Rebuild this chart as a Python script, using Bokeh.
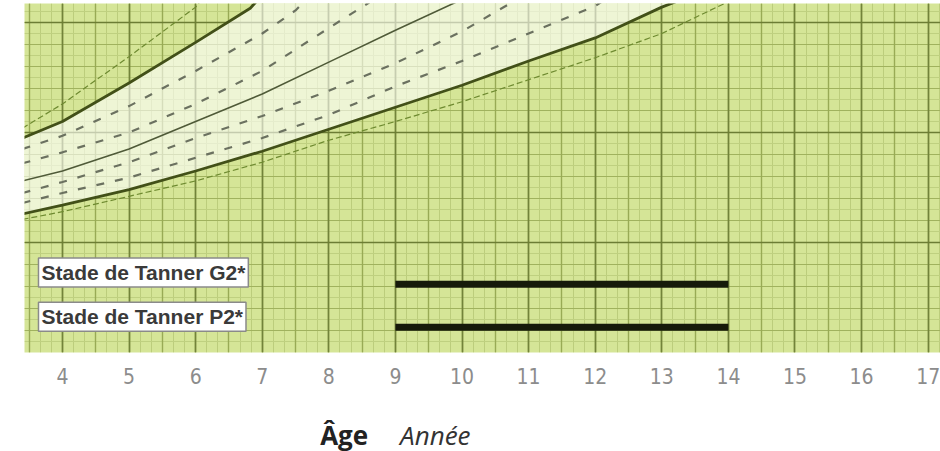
from bokeh.plotting import figure
from bokeh.layouts import column
from bokeh.models import Range1d, Grid, SingleIntervalTicker, FixedTicker, Label
from bokeh.embed import file_html
from bokeh.resources import INLINE

# ---- data (age in years, value in chart units) ----
tick_ages = [4, 5, 6, 7, 8, 9, 10, 11, 12, 13, 14, 15, 16, 17]

# outer thin dashed upper curve
age_a = [3.4, 4, 5, 6, 6.2]
val_a = [20.4, 22.6, 26.9, 31.4, 33.0]
# thick upper band boundary
age_b = [3.4, 4, 5, 6, 6.82, 7.0]
val_b = [19.5, 21.0, 24.5, 28.2, 31.3, 32.5]
# dashed inner curves (upper half)
age_c = [3.4, 4, 5, 6, 7, 7.5, 7.8]
val_c = [18.5, 19.7, 22.4, 25.6, 29.0, 31.1, 33.0]
age_d = [3.4, 4, 5, 6, 7, 8, 8.6, 8.8]
val_d = [17.2, 18.2, 20.0, 22.6, 25.6, 29.5, 31.8, 33.0]
# solid middle curve
age_e = [3.4, 4, 5, 6, 7, 8, 9, 10]
val_e = [15.6, 16.5, 18.5, 21.0, 23.5, 26.4, 29.3, 32.1]
# dashed inner curves (lower half)
age_f = [3.4, 4, 5, 6, 7, 8, 9, 10, 10.8]
val_f = [14.5, 15.5, 17.3, 19.5, 21.5, 23.8, 26.3, 29.2, 32.0]
age_g = [3.4, 4, 5, 6, 7, 8, 9, 10, 11, 12, 12.2]
val_g = [13.6, 14.5, 15.9, 17.7, 19.5, 21.6, 24.2, 26.5, 29.0, 31.5, 32.3]
# thick lower band boundary
age_h = [3.4, 4, 5, 6, 7, 8, 9, 10, 11, 12, 13, 13.3]
val_h = [12.6, 13.4, 14.8, 16.5, 18.3, 20.3, 22.3, 24.3, 26.5, 28.6, 31.4, 32.1]
# outer thin dashed lower curve
age_i = [3.4, 4, 5, 6, 7, 8, 9, 10, 11, 12, 13, 14]
val_i = [12.1, 12.8, 14.2, 15.6, 17.3, 19.3, 21.0, 22.8, 24.8, 26.8, 29.0, 31.9]

# Tanner stages: age range
tanner_labels = ["Stade de Tanner G2*", "Stade de Tanner P2*"]
tanner_start = [9, 9]
tanner_end = [14, 14]
tanner_row = [6.2, 2.3]

x_title = ["Âge", "Année"]

BG = "#d5e597"
XR = Range1d(3.43, 17.185)

p = figure(width=940, height=392, output_backend="svg", toolbar_location=None,
           x_range=XR, y_range=Range1d(0, 31.73),
           y_axis_location=None,
           min_border_left=24, min_border_right=0, min_border_top=3, min_border_bottom=40,
           background_fill_color=BG, border_fill_color="white", outline_line_color=None)

p.xgrid.visible = False
p.ygrid.visible = False

# grid layers
for dim, interval, color, width in [
    (0, 1/6, "#bccd7c", 1.0),
    (1, 1, "#bfd080", 1.0),
    (1, 2, "#a0b25e", 1.2),
    (0, 0.5, "#98aa55", 1.4),
    (0, 1, "#72833a", 1.6),
    (1, 10, "#6c7d34", 1.7),
]:
    g = Grid(dimension=dim, ticker=SingleIntervalTicker(interval=interval, num_minor_ticks=0),
             grid_line_color=color, grid_line_width=width)
    p.add_layout(g)

# pale band between thick curves
band_x = age_b + age_h[::-1]
band_y = val_b + val_h[::-1]
p.patch(band_x, band_y, fill_color="white", fill_alpha=0.6, line_color=None)

# curves
p.line(age_a, val_a, line_color="#6e8a30", line_width=1.2, line_dash="6 3")
p.line(age_i, val_i, line_color="#6e8a30", line_width=1.2, line_dash="6 3")
for ax_, vy in [(age_c, val_c), (age_d, val_d), (age_f, val_f), (age_g, val_g)]:
    p.line(ax_, vy, line_color="#6b7160", line_width=2.2, line_dash="8 11")
p.line(age_e, val_e, line_color="#4f5a38", line_width=1.6)
p.line(age_b, val_b, line_color="#425018", line_width=2.8)
p.line(age_h, val_h, line_color="#425018", line_width=2.8)

# Tanner bars
p.segment(x0=tanner_start, y0=tanner_row, x1=tanner_end, y1=tanner_row,
          line_color="#161a0a", line_width=7, line_cap="butt")

label_y = [7.27, 3.25]
for txt, ly in zip(tanner_labels, label_y):
    p.add_layout(Label(x=3.64, y=ly, text=txt, text_font="Liberation Sans",
                       text_font_style="bold", text_font_size="21px",
                       text_color="#3a3a3a", text_baseline="middle",
                       background_fill_color="white", border_line_color="#8a8a8a",
                       border_line_width=1.5, padding=3))

# x axis
ax = p.xaxis[0]
ax.ticker = FixedTicker(ticks=tick_ages)
ax.axis_line_color = None
ax.major_tick_line_color = None
ax.minor_tick_line_color = None
ax.major_label_standoff = 9
ax.major_label_text_font = "DejaVu Sans Condensed"
ax.major_label_text_font_size = "21px"
ax.major_label_text_color = "#8c8c8c"

# axis title row (separate strip so the text is not clipped)
p2 = figure(width=940, height=59, output_backend="svg", toolbar_location=None,
            x_range=XR, y_range=Range1d(0, 59),
            x_axis_location=None, y_axis_location=None,
            min_border_left=24, min_border_right=0, min_border_top=0, min_border_bottom=0,
            background_fill_color="white", border_fill_color="white", outline_line_color=None)
p2.xgrid.visible = False
p2.ygrid.visible = False
p2.add_layout(Label(x=7.87, y=17, text=x_title[0], text_font="Open Sans",
                    text_font_style="bold", text_font_size="26px", text_color="#222222",
                    text_baseline="alphabetic"))
p2.add_layout(Label(x=9.07, y=17, text=x_title[1], text_font="Open Sans",
                    text_font_style="italic", text_font_size="26px", text_color="#333333",
                    text_baseline="alphabetic"))

layout = column(p, p2, spacing=0)
open("out.html", "w").write(file_html(layout, INLINE))
